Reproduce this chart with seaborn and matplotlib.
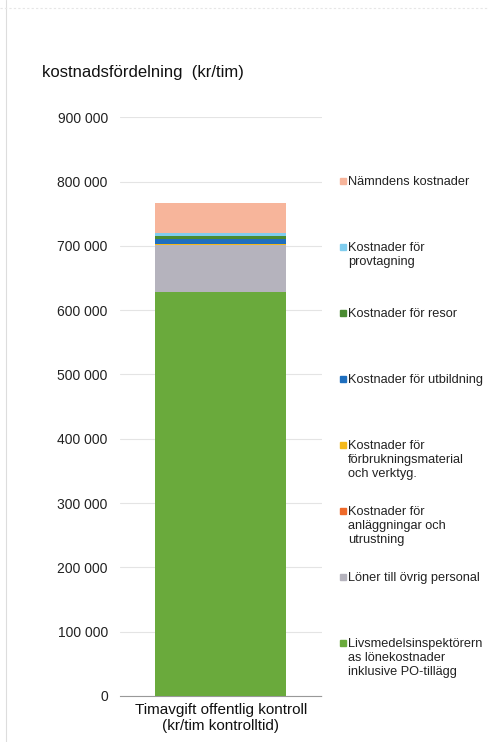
import numpy as np
import pandas as pd
import seaborn as sns
import matplotlib.pyplot as plt
from matplotlib.patches import Rectangle
from matplotlib.lines import Line2D
from matplotlib.ticker import FuncFormatter

# stacking order, bottom -> top
categories = [
    "Livsmedelsinspektörern\nas lönekostnader\ninklusive PO-tillägg",
    "Löner till övrig personal",
    "Kostnader för\nanläggningar och\nutrustning",
    "Kostnader för\nförbrukningsmaterial\noch verktyg.",
    "Kostnader för utbildning",
    "Kostnader för resor",
    "Kostnader för\nprovtagning",
    "Nämndens kostnader",
]
values = [628000, 73000, 1000, 1000, 7000, 5000, 5000, 46000]
colors = ["#6aaa3c", "#b5b3bd", "#ef6a2a", "#f4b81a", "#1f6fbe", "#4b8b32", "#80cdee", "#f7b59b"]
bar_label = "Timavgift offentlig kontroll\n(kr/tim kontrolltid)"
yticks = [0, 100000, 200000, 300000, 400000, 500000, 600000, 700000, 800000, 900000]

sns.set_style("white")
plt.rcParams["font.family"] = ["Liberation Sans", "DejaVu Sans"]

df = pd.DataFrame({"cat": categories, "value": values, "color": colors})
df["cum"] = df["value"].cumsum()
df["x"] = bar_label

fig = plt.figure(figsize=(4.89, 7.42), dpi=100)
ax = fig.add_axes([0.245, 0.062, 0.413, 0.780])

# draw cumulative bars from the top down so each segment shows its own slice
for _, row in df.iloc[::-1].iterrows():
    sns.barplot(data=pd.DataFrame([row]), x="x", y="cum", color=row["color"],
                width=0.65, saturation=1, linewidth=0, ax=ax, zorder=3)

ax.set_ylim(0, 900000)
ax.set_xlim(-0.5, 0.5)
ax.set_yticks(yticks)
ax.yaxis.set_major_formatter(FuncFormatter(lambda v, p: f"{int(v):,}".replace(",", " ")))
ax.tick_params(axis="y", labelsize=10, length=0, pad=8.6, colors="#222222")
ax.tick_params(axis="x", labelsize=11, length=0, pad=5, colors="#111111")
ax.set_xlabel("")
ax.set_ylabel("")
ax.yaxis.grid(True, color="#e4e4e4", linewidth=0.8, zorder=0)
for s in ["top", "right", "left"]:
    ax.spines[s].set_visible(False)
ax.spines["bottom"].set_color("#999999")
ax.spines["bottom"].set_linestyle((0, (1, 1)))
ax.spines["bottom"].set_linewidth(0.8)

fig.text(42 / 489, 1 - 72 / 742, "kostnadsfördelning  (kr/tim)", fontsize=12,
         color="#111111", va="center", ha="left")

# legend, evenly spaced slots, top entry = top segment
for i, (_, row) in enumerate(df.iloc[::-1].iterrows()):
    ytop = 183 + 66 * i
    fig.patches.append(Rectangle((340 / 489, 1 - (ytop + 1) / 742), 6 / 489, 6 / 742,
                                 transform=fig.transFigure, color=row["color"], figure=fig))
    fig.text(348 / 489, 1 - (ytop - 7) / 742, row["cat"], fontsize=9.2, color="#222222",
             va="top", ha="left", linespacing=1.2)

# faint frame of the scanned page
fig.add_artist(Line2D([6 / 489, 6 / 489], [0, 1], transform=fig.transFigure,
                      color="#dddddd", linewidth=0.8))
fig.add_artist(Line2D([0, 1], [1 - 8 / 742, 1 - 8 / 742], transform=fig.transFigure,
                      color="#e6e6e6", linewidth=0.8, linestyle=(0, (2, 2))))

fig.savefig("out.png", dpi=100)
